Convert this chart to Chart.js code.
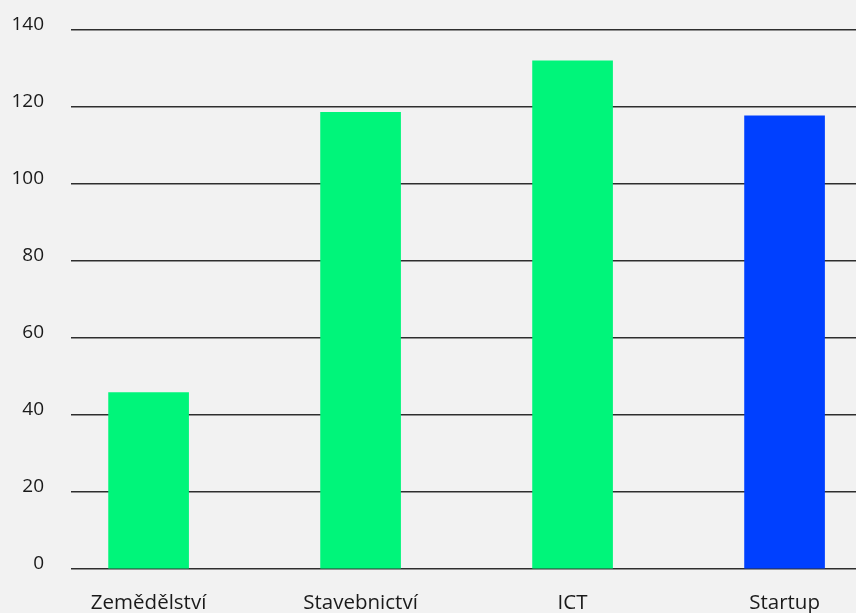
<!DOCTYPE html>
<html>
<head>
<meta charset="utf-8">
<script src="https://cdn.jsdelivr.net/npm/chart.js@4"></script>
<style>
  html, body { margin: 0; padding: 0; background: #f2f2f2; overflow: hidden; }
  #wrap { width: 856px; height: 613px; position: relative; }
</style>
</head>
<body>
<div id="wrap"><canvas id="chart"></canvas></div>
<script>
// sector labels and values
var categories = ["Zemědělství", "Stavebnictví", "ICT", "Startup"];
var values = [45.8, 118.6, 132, 117.7];
var barColors = ["#00f57a", "#00f57a", "#00f57a", "#0040ff"];
var yTicks = [0, 20, 40, 60, 80, 100, 120, 140];

var points = values.map(function(v, i) { return { x: i, y: v }; });

Chart.defaults.font.family = "'Open Sans', Lato, sans-serif";
Chart.defaults.color = "#1a1a1a";

var chart = new Chart(document.getElementById("chart"), {
  type: "bar",
  data: {
    datasets: [{
      data: points,
      backgroundColor: barColors,
      borderWidth: 0,
      barThickness: 80
    }]
  },
  options: {
    responsive: true,
    maintainAspectRatio: false,
    animation: false,
    layout: { padding: { left: 11, right: 0, top: 30, bottom: 0 } },
    plugins: { legend: { display: false }, tooltip: { enabled: false } },
    scales: {
      x: {
        type: "linear",
        bounds: "data",
        offset: false,
        min: -0.366,
        max: 3.337,
        grid: { display: false },
        border: { display: false },
        afterFit: function(a) { a.height = 44; a.paddingLeft = 0; a.paddingRight = 0; },
        afterBuildTicks: function(axis) {
          axis.ticks = categories.map(function(c, i) { return { value: i }; });
        },
        ticks: {
          padding: 14,
          font: { size: 20.5 },
          maxRotation: 0,
          autoSkip: false,
          callback: function(v) { return categories[v] || ""; }
        }
      },
      y: {
        min: 0,
        max: 140,
        afterBuildTicks: function(axis) {
          axis.ticks = yTicks.map(function(v) { return { value: v }; });
        },
        afterFit: function(a) { a.width = 60; a.paddingTop = 0; a.paddingBottom = 0; },
        grid: { color: "#2e2e2e", lineWidth: 1.5, drawTicks: false },
        border: { display: false },
        ticks: {
          padding: 27,
          labelOffset: -5,
          font: { size: 19 }
        }
      }
    }
  }
});
</script>
</body>
</html>
